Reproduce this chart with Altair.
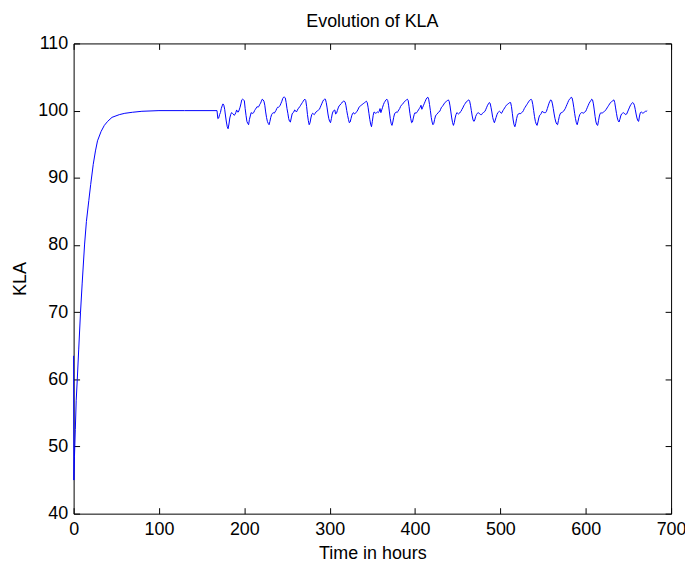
import altair as alt
import pandas as pd

# ---- data ----
rise_t = [0, 0.3, 1, 2, 3, 4.3, 6, 8.1, 10, 12.8, 15, 17.8, 20, 23, 25.6, 28, 32.2, 36, 39.9, 45, 53.5, 60, 68.8, 80, 100, 130]
rise_v = [63.5, 45.0, 48.5, 52.5, 56.8, 60.0, 64.5, 70.0, 74.2, 80.0, 83.5, 86.6, 89.0, 92.0, 94.0, 95.5, 96.9, 97.8, 98.4, 99.0, 99.4, 99.6, 99.75, 99.9, 100.0, 100.0]

osc_start = 168          # hour at which the daily oscillation begins
hours_per_day = 24
# hourly values (h0..h23) for each day from hour 168
day_values = [
    [100.0, 98.8, 98.9, 99.4, 99.7, 100.3, 100.7, 101.0, 100.8, 100.2, 99.2, 98.3, 97.6, 97.3, 98.0, 98.9, 99.4, 99.7, 99.6, 99.5, 99.3, 99.4, 99.7, 100.1],
    [99.8, 99.8, 100.1, 100.5, 101.0, 101.6, 101.7, 101.6, 101.5, 100.3, 99.3, 98.4, 98.1, 97.9, 98.7, 99.2, 99.7, 99.6, 99.6, 99.7, 100.0, 100.2, 100.4, 100.6],
    [100.5, 100.6, 100.9, 101.1, 101.4, 101.7, 101.6, 101.4, 100.8, 99.8, 99.0, 98.4, 98.1, 97.9, 98.4, 99.0, 99.4, 99.6, 99.7, 99.6, 99.8, 100.0, 100.3, 100.5],
    [100.5, 100.6, 100.8, 101.1, 101.4, 101.8, 102.0, 102.0, 101.9, 101.2, 100.3, 99.6, 98.8, 98.4, 98.3, 98.9, 99.5, 99.7, 99.8, 100.1, 100.0, 99.8, 100.0, 100.3],
    [100.4, 100.6, 100.8, 101.0, 101.2, 101.4, 101.6, 101.7, 101.5, 100.6, 99.4, 98.5, 97.9, 98.2, 98.9, 99.4, 99.6, 99.5, 99.4, 99.6, 99.8, 99.9, 100.0, 100.1],
    [100.2, 100.5, 100.8, 101.1, 101.4, 101.6, 101.7, 101.7, 101.2, 100.4, 99.5, 98.8, 98.4, 98.2, 98.8, 99.5, 99.9, 100.0, 100.1, 99.5, 99.6, 100.0, 100.4, 100.7],
    [100.8, 101.0, 101.1, 101.3, 101.4, 101.4, 101.3, 100.8, 100.0, 99.3, 98.7, 98.2, 98.3, 98.8, 99.3, 99.6, 99.7, 99.5, 99.6, 99.7, 99.9, 100.1, 100.4, 100.6],
    [100.7, 100.8, 100.9, 101.0, 101.1, 101.2, 101.3, 101.4, 101.2, 100.5, 99.6, 98.7, 98.0, 97.6, 98.4, 99.3, 99.8, 99.7, 99.6, 99.7, 99.8, 99.7, 99.9, 100.3],
    [99.7, 100.1, 100.5, 100.9, 101.2, 101.4, 101.6, 101.7, 101.5, 100.8, 99.8, 98.8, 98.1, 97.8, 98.3, 99.0, 99.5, 99.7, 99.8, 99.7, 99.9, 100.1, 100.3, 100.6],
    [100.8, 100.9, 101.1, 101.2, 101.4, 101.5, 101.6, 101.7, 101.5, 100.6, 99.6, 98.8, 98.2, 98.3, 98.9, 99.4, 99.7, 99.6, 99.7, 99.9, 100.1, 100.3, 100.5, 100.8],
    [100.2, 100.5, 100.8, 101.1, 101.4, 101.7, 101.9, 102.0, 101.7, 100.9, 100.0, 99.0, 98.3, 97.9, 98.1, 98.7, 99.2, 99.4, 99.5, 99.7, 99.8, 99.9, 100.2, 100.5],
    [100.6, 100.8, 101.0, 101.2, 101.3, 101.4, 101.5, 101.6, 101.4, 100.7, 99.8, 98.9, 98.2, 97.8, 98.2, 98.9, 99.4, 99.7, 99.6, 99.5, 99.6, 99.8, 99.9, 100.2],
    [100.4, 100.7, 100.9, 101.1, 101.3, 101.4, 101.5, 101.6, 101.4, 100.8, 100.0, 99.2, 98.6, 98.4, 98.6, 99.1, 99.4, 99.6, 99.7, 99.6, 99.5, 99.4, 99.4, 99.6],
    [99.7, 99.8, 99.9, 100.2, 100.5, 100.8, 101.0, 101.2, 101.1, 100.5, 99.8, 99.0, 98.5, 98.2, 98.6, 99.0, 99.4, 99.7, 99.8, 99.9, 99.8, 99.6, 99.7, 100.0],
    [100.2, 100.4, 100.6, 100.8, 100.9, 101.0, 101.1, 101.2, 101.2, 100.6, 99.6, 98.6, 97.9, 97.6, 98.1, 98.8, 99.3, 99.5, 99.6, 99.5, 99.6, 99.7, 99.8, 100.0],
    [100.3, 100.5, 100.7, 100.9, 101.1, 101.3, 101.5, 101.6, 101.7, 101.5, 100.9, 100.0, 99.1, 98.4, 98.0, 97.8, 98.3, 98.9, 99.3, 99.4, 99.6, 99.9, 99.8, 99.7],
    [99.7, 99.7, 99.9, 100.3, 100.7, 101.1, 101.4, 101.6, 101.5, 101.0, 100.3, 99.5, 98.8, 98.3, 98.0, 97.9, 98.5, 99.1, 99.5, 99.7, 99.7, 99.8, 99.9, 100.1],
    [100.3, 100.6, 100.9, 101.2, 101.5, 101.7, 101.8, 102.0, 101.9, 101.3, 100.5, 99.6, 98.8, 98.2, 97.9, 98.4, 99.0, 99.4, 99.6, 99.7, 99.7, 99.6, 99.7, 99.8],
    [99.9, 100.2, 100.5, 100.8, 101.1, 101.3, 101.5, 101.7, 101.6, 101.0, 100.1, 99.1, 98.3, 97.9, 97.8, 98.5, 99.2, 99.6, 99.7, 99.6, 99.7, 99.8, 99.9, 100.0],
    [100.2, 100.4, 100.6, 100.8, 101.0, 101.2, 101.3, 101.4, 101.5, 101.6, 101.2, 100.4, 99.6, 98.9, 98.5, 98.3, 98.7, 99.2, 99.5, 99.6, 99.7, 99.6, 99.5, 99.4],
    [99.5, 99.8, 100.1, 100.4, 100.7, 100.9, 101.1, 101.2, 101.1, 100.8, 100.2, 99.5, 98.9, 98.5, 98.4, 99.2, 99.7, 99.8, 99.7, 99.6, 99.7, 99.8, 99.9, 99.9],
]
end_t = 672
end_v = 100.0

x_ticks = [0, 100, 200, 300, 400, 500, 600, 700]
y_ticks = [40, 50, 60, 70, 80, 90, 100, 110]

# ---- assemble table ----
t_all = list(rise_t)
v_all = list(rise_v)
for d, vals in enumerate(day_values):
    for h, val in enumerate(vals):
        t_all.append(osc_start + hours_per_day * d + h)
        v_all.append(val)
t_all.append(end_t)
v_all.append(end_v)

df = pd.DataFrame({"idx": list(range(len(t_all))), "t": t_all, "v": v_all})

FONT = "Liberation Sans"
xs = alt.Scale(domain=[0, 700], nice=False, zero=False)
ys = alt.Scale(domain=[40, 110], nice=False, zero=False)
TICK = 6

base = alt.Chart(df)

main = base.mark_line(color="#0000ff", strokeWidth=1).encode(
    x=alt.X("t:Q", scale=xs, title="Time in hours",
            axis=alt.Axis(orient="bottom", values=x_ticks, format="d", ticks=False,
                          domain=False, grid=False, labelPadding=7, titlePadding=6,
                          labelOverlap=False, labelFlush=False)),
    y=alt.Y("v:Q", scale=ys, title="KLA",
            axis=alt.Axis(orient="left", values=y_ticks, format="d", ticks=False,
                          domain=False, grid=False, labelPadding=6, titlePadding=8,
                          labelOverlap=False, labelFlush=False)),
    order="idx:Q",
)

ticks_bl = base.mark_line(strokeOpacity=0).encode(
    x=alt.X("t:Q", scale=xs, title=None,
            axis=alt.Axis(orient="bottom", values=x_ticks, offset=-TICK, tickSize=TICK,
                          labels=False, domain=False, grid=False)),
    y=alt.Y("v:Q", scale=ys, title=None,
            axis=alt.Axis(orient="left", values=y_ticks, offset=-TICK, tickSize=TICK,
                          labels=False, domain=False, grid=False)),
    order="idx:Q",
)

ticks_tr = base.mark_line(strokeOpacity=0).encode(
    x=alt.X("t:Q", scale=xs, title=None,
            axis=alt.Axis(orient="top", values=x_ticks, offset=-TICK, tickSize=TICK,
                          labels=False, domain=False, grid=False)),
    y=alt.Y("v:Q", scale=ys, title=None,
            axis=alt.Axis(orient="right", values=y_ticks, offset=-TICK, tickSize=TICK,
                          labels=False, domain=False, grid=False)),
    order="idx:Q",
)

chart = (
    alt.layer(main, ticks_bl, ticks_tr)
    .resolve_axis(x="independent", y="independent")
    .properties(
        width=601,
        height=473,
        title=alt.TitleParams("Evolution of KLA", font=FONT, fontSize=18,
                              fontWeight="normal", color="black",
                              baseline="alphabetic", offset=-10, anchor="middle",
                              frame="group"),
        padding={"left": 66, "top": 34, "right": 14, "bottom": 50},
        autosize=alt.AutoSizeParams(type="none"),
    )
    .configure_view(stroke="black", strokeWidth=1)
    .configure_axis(labelFont=FONT, labelFontSize=18, labelColor="black",
                    titleFont=FONT, titleFontSize=18, titleColor="black",
                    titleFontWeight="normal", tickColor="black", tickWidth=1)
)

chart.save("out.html", embed_options={"renderer": "svg", "actions": False})
